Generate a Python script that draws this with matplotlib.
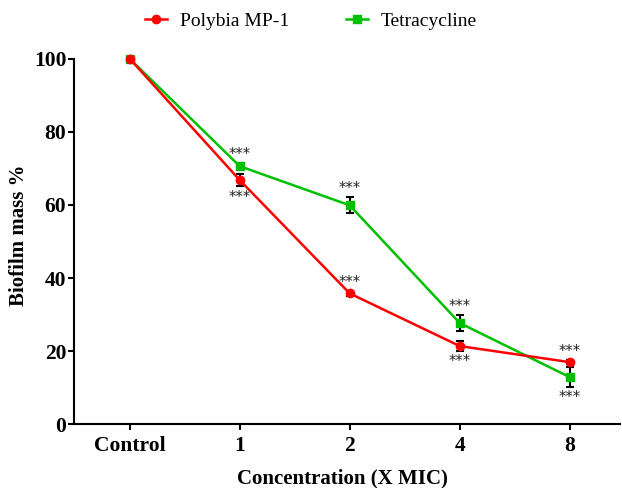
import matplotlib
matplotlib.use('Agg')
import matplotlib.pyplot as plt
from matplotlib.lines import Line2D
import numpy as np

# concentrations on the x axis
categories = ['Control', '1', '2', '4', '8']

# biofilm mass %
polybia = [100, 66.8, 35.8, 21.4, 17.0]
polybia_err = [0, 1.7, 0.6, 1.4, 0.5]
tetracycline = [100, 70.6, 59.9, 27.7, 12.9]
tetracycline_err = [0, 0.8, 2.2, 2.2, 2.7]

# where the significance stars sit: +1 above the point, -1 below
polybia_star = [0, -1, 1, -1, 1]
tetracycline_star = [0, 1, 1, 1, -1]

plt.rcParams['font.family'] = ['Liberation Serif', 'DejaVu Serif']

fig = plt.figure(figsize=(6.22, 4.88), dpi=100)
ax = fig.add_axes([74 / 622, 63.7 / 488, 546 / 622, 365.6 / 488])

x = np.arange(len(categories))
red = '#ff0000'
green = '#00c000'

ax.errorbar(x, polybia, yerr=polybia_err, color=red, marker='o', markersize=6,
            linewidth=1.8, ecolor='black', elinewidth=1.5, capsize=3, capthick=1.5,
            clip_on=False, zorder=3)
ax.errorbar(x, tetracycline, yerr=tetracycline_err, color=green, marker='s', markersize=6,
            linewidth=1.8, ecolor='black', elinewidth=1.5, capsize=3, capthick=1.5,
            clip_on=False, zorder=2)

# significance marks (bottom of the text box vs. point, the glyphs sit high in the box)
for vals, errs, pos in [(polybia, polybia_err, polybia_star),
                        (tetracycline, tetracycline_err, tetracycline_star)]:
    for i in range(len(vals)):
        if pos[i] == 0:
            continue
        if pos[i] > 0:
            y = vals[i] + errs[i] + 0.3
        else:
            y = vals[i] - errs[i] - 5.0
        ax.text(x[i], y, '***', ha='center', va='bottom',
                fontsize=10.5, color='#222222', family='DejaVu Sans')

ax.set_xlim(-0.506, 4.457)
ax.set_ylim(0, 100)
ax.set_yticks([0, 20, 40, 60, 80, 100])
ax.set_xticks(x)
ax.set_xticklabels(categories)

ax.spines['top'].set_visible(False)
ax.spines['right'].set_visible(False)
ax.spines['left'].set_linewidth(1.5)
ax.spines['bottom'].set_linewidth(1.5)
ax.tick_params(axis='both', direction='out', width=1.5, length=4.5, labelsize=15.5)
ax.tick_params(axis='x', pad=4)
ax.tick_params(axis='y', pad=1)
for lab in ax.get_xticklabels() + ax.get_yticklabels():
    lab.set_fontweight('bold')

# axis titles placed where the reference has them
fig.text(342 / 622, 1 - 478 / 488, 'Concentration (X MIC)', ha='center', va='center',
         fontsize=15, fontweight='bold')
fig.text(19 / 622, 1 - 235 / 488, 'Biofilm mass %', ha='center', va='center',
         rotation=90, fontsize=15, fontweight='bold')

handles = [Line2D([], [], color=red, marker='o', markersize=6, linewidth=1.8),
           Line2D([], [], color=green, marker='s', markersize=6, linewidth=1.8)]
fig.legend(handles, ['Polybia MP-1', 'Tetracycline'], loc='center left',
           bbox_to_anchor=(145 / 622, 1 - 21 / 488), ncol=2, frameon=False,
           fontsize=14, handlelength=1.13, handletextpad=0.67, columnspacing=2.9,
           borderpad=0, borderaxespad=0)

fig.savefig('out.png', dpi=100)
